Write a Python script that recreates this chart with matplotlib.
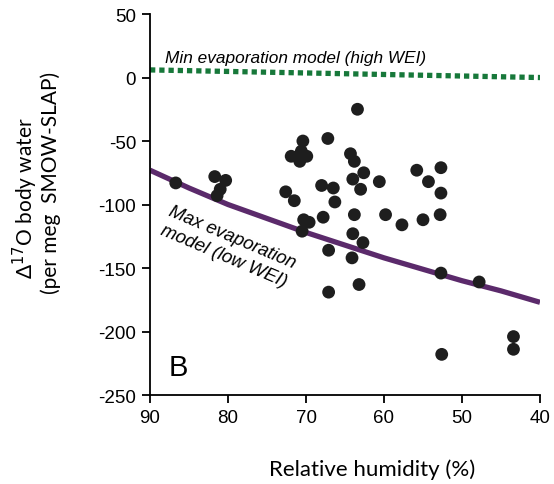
import matplotlib
matplotlib.use("Agg")
import matplotlib.pyplot as plt
import numpy as np

# body water samples: relative humidity (%) and D17O (per meg)
rh = [86.7, 81.7, 80.3, 81.0, 81.4, 72.6, 71.5, 70.4, 71.9, 70.6, 69.9, 70.8,
      70.3, 69.6, 70.5, 68.0, 67.8, 67.1, 67.1, 67.2, 66.5, 66.3,
      63.4, 64.3, 63.8, 62.6, 64.0, 63.0, 60.6, 63.8, 59.8, 57.7, 55.0, 52.8,
      55.8, 52.7, 54.3, 52.7, 64.0, 62.7, 64.1, 63.2, 52.7, 47.8,
      52.6, 43.4, 43.4]
d17o = [-83, -78, -81, -88, -93, -90, -97, -50, -62, -58, -62, -66,
        -112, -114, -121, -85, -110, -136, -169, -48, -87, -98,
        -25, -60, -66, -75, -80, -88, -82, -108, -108, -116, -112, -108,
        -73, -71, -82, -91, -123, -130, -142, -163, -154, -161,
        -218, -204, -214]

# model curves
model_rh = [90, 85, 80, 75, 70, 65, 60, 55, 50, 45, 40]
max_evap = [-73, -87, -100, -111, -122, -132, -142, -151, -160, -168, -177]
min_evap = [6.0, 5.4, 4.8, 4.2, 3.6, 3.0, 2.4, 1.8, 1.2, 0.6, 0.0]

fig = plt.figure(figsize=(5.54, 4.85), dpi=100)
ax = fig.add_axes([0.2708, 0.1835, 0.7039, 0.7855])

ax.plot(model_rh, min_evap, color='#17783a', lw=3.8, linestyle=(0, (1.0, 0.75)),
        solid_capstyle='butt')
ax.plot(model_rh, max_evap, color='#5b2a6b', lw=3.8, solid_capstyle='butt')
ax.scatter(rh, d17o, s=85, color='#1e1e1e', edgecolors='none', zorder=3)

ax.set_xlim(90, 40)
ax.set_ylim(-250, 50)
ax.set_xticks([90, 80, 70, 60, 50, 40])
ax.set_yticks([-250, -200, -150, -100, -50, 0, 50])
ax.set_yticklabels(['-250', '-200', '-150', '-100', '-50', '0', '50'])
for s in ['top', 'right']:
    ax.spines[s].set_visible(False)
for s in ['left', 'bottom']:
    ax.spines[s].set_linewidth(1.3)
ax.tick_params(direction='out', length=6, width=1.3, labelsize=13.5, pad=4)
for lab in ax.get_xticklabels() + ax.get_yticklabels():
    lab.set_family('Liberation Sans')

# axis titles
fig.text(0.672, 0.031, 'Relative humidity (%)', ha='center', va='center',
         family='Lato', fontsize=16)
fig.text(0.045, 0.592, '\u0394$^{17}$O body water', rotation=90, ha='center', va='center',
         family='Lato', fontsize=15, math_fontfamily='custom')
fig.text(0.091, 0.623, '(per meg  SMOW-SLAP)', rotation=90, ha='center', va='center',
         family='Lato', fontsize=15)

ax.text(71.3, 16, 'Min evaporation model (high WEI)', style='italic', ha='center',
        va='center', family='Liberation Sans', fontsize=12.4)
ax.text(80.0, -133, 'Max evaporation\nmodel (low WEI)', style='italic', ha='center',
        va='center', rotation=-23, rotation_mode='anchor', linespacing=1.25,
        family='Liberation Sans', fontsize=13.3)
ax.text(86.4, -228, 'B', ha='center', va='center', family='Liberation Sans', fontsize=21)

fig.savefig('out.png', dpi=100)
